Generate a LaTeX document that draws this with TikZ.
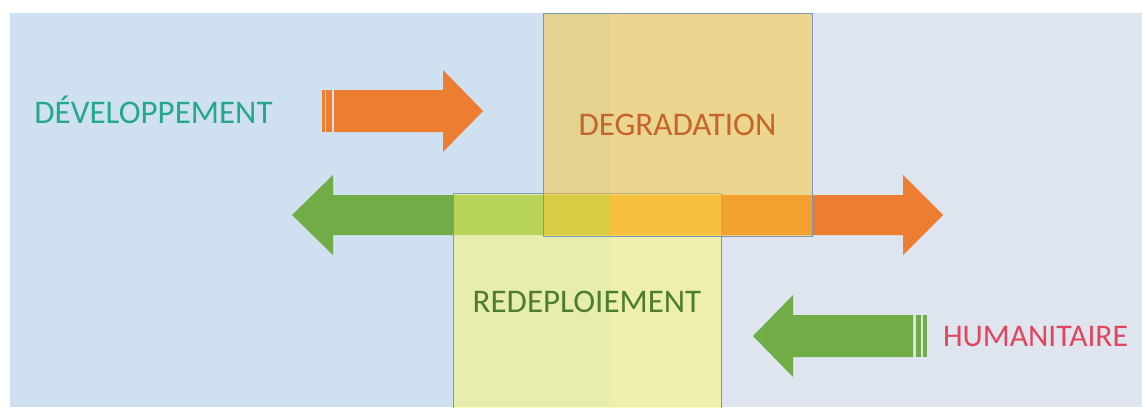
\documentclass[tikz,border=0pt]{standalone}
\usepackage{fontspec}
\setmainfont{Carlito}
\definecolor{bgblue}{HTML}{CFE0F1}
\definecolor{bggrey}{HTML}{DEE5EE}
\definecolor{arrorange}{HTML}{ED7D31}
\definecolor{arrgreen}{HTML}{70AD47}
\definecolor{degfill}{HTML}{F8C632}
\definecolor{redfill}{HTML}{FFFA69}
\definecolor{boxline}{HTML}{8096B8}
\definecolor{txtteal}{HTML}{25A88A}
\definecolor{txtdeg}{HTML}{C5652A}
\definecolor{txtred}{HTML}{4E7D2F}
\definecolor{txthum}{HTML}{E2455E}
\tikzset{
  phasebox/.style={draw=boxline, line width=0.8pt, fill opacity=0.5, text opacity=1,
    inner sep=0pt, font=\fontsize{33}{38}\selectfont},
  label/.style={inner sep=0pt, font=\fontsize{33}{38}\selectfont}
}
\begin{document}
\begin{tikzpicture}[x=1pt,y=-1pt]
\useasboundingbox (0,0) rectangle (1142,407);
\fill[white] (0,0) rectangle (1142,407);
% two-tone backdrop
\fill[bgblue] (10,13) rectangle (610,407);
\fill[bggrey] (610,13) rectangle (1142,407);

% central double block arrow: green part to the left, orange part to the right
\fill[arrgreen] (292,215) -- (333,175) -- (333,195) -- (611,195) -- (611,235)
  -- (333,235) -- (333,255) -- cycle;
\fill[arrorange] (610,195) -- (903,195) -- (903,175) -- (943,215) -- (903,255)
  -- (903,235) -- (610,235) -- cycle;

% translucent phase boxes
\node[phasebox, fill=redfill, text=txtred, minimum width=268pt, minimum height=217pt]
  (redep) at (587,301.5) {REDEPLOIEMENT};
\node[phasebox, fill=degfill, text=txtdeg, minimum width=269pt, minimum height=223pt]
  (degr) at (677.5,124.5) {DEGRADATION};

% upper striped arrow
\fill[arrorange] (322,90) rectangle (324.5,132);
\fill[arrorange] (326,90) rectangle (331.5,132);
\fill[arrorange] (334,90) -- (443,90) -- (443,70) -- (483,111) -- (443,152)
  -- (443,132) -- (334,132) -- cycle;

% lower striped arrow
\fill[arrgreen] (753,336) -- (793,295) -- (793,315) -- (913,315) -- (913,357)
  -- (793,357) -- (793,377) -- cycle;
\fill[arrgreen] (915.5,315) rectangle (921,357);
\fill[arrgreen] (923,315) rectangle (926.5,357);

% side labels
\node[label, text=txtteal] (dev) at (153.5,110) {DÉVELOPPEMENT};
\node[label, text=txthum, font=\fontsize{31.5}{36}\selectfont] (hum) at (1035.5,337) {HUMANITAIRE};
\end{tikzpicture}
\end{document}
